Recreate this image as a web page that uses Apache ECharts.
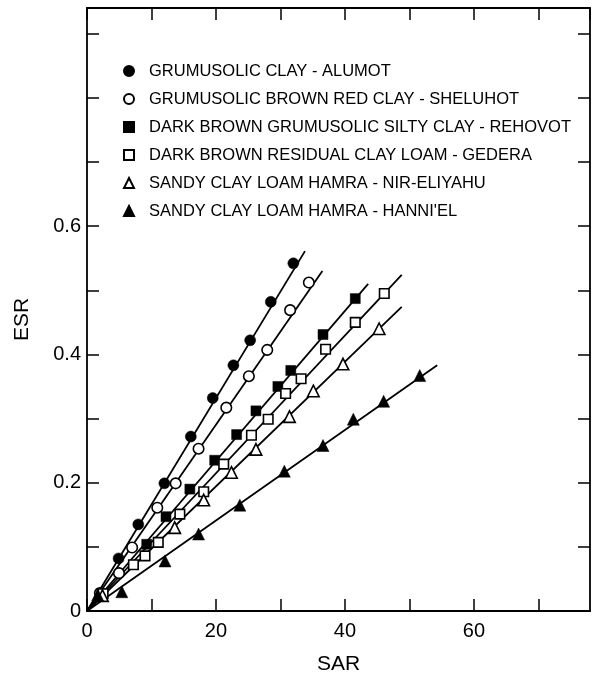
<!DOCTYPE html>
<html>
<head>
<meta charset="utf-8">
<script src="https://cdn.jsdelivr.net/npm/echarts@6/dist/echarts.min.js"></script>
<style>
  html, body { margin: 0; padding: 0; background: #fff; }
  #chart { width: 597px; height: 680px; }
</style>
</head>
<body>
<div id="chart"></div>
<script>
// ---- data ----
const seriesNames = [
  'GRUMUSOLIC CLAY - ALUMOT',
  'GRUMUSOLIC BROWN RED CLAY - SHELUHOT',
  'DARK BROWN GRUMUSOLIC SILTY CLAY - REHOVOT',
  'DARK BROWN RESIDUAL CLAY LOAM - GEDERA',
  'SANDY CLAY LOAM HAMRA - NIR-ELIYAHU',
  "SANDY CLAY LOAM HAMRA - HANNI'EL"
];

const alumotSAR = [2.1, 4.9, 7.95, 12.0, 16.1, 19.5, 22.7, 25.3, 28.5, 32.0];
const alumotESR = [0.024, 0.082, 0.135, 0.199, 0.272, 0.332, 0.383, 0.422, 0.482, 0.542];

const sheluhotSAR = [2.0, 4.96, 7.0, 10.9, 13.75, 17.3, 21.6, 25.1, 27.95, 31.5, 34.4];
const sheluhotESR = [0.028, 0.059, 0.099, 0.161, 0.199, 0.253, 0.317, 0.366, 0.407, 0.469, 0.512];

const rehovotSAR = [2.3, 9.26, 12.25, 15.95, 19.8, 23.2, 26.2, 29.6, 31.6, 36.6, 41.6];
const rehovotESR = [0.027, 0.104, 0.147, 0.190, 0.235, 0.275, 0.312, 0.350, 0.375, 0.431, 0.487];

const gederaSAR = [2.5, 7.2, 9.0, 11.05, 14.4, 18.1, 21.2, 25.5, 28.1, 30.8, 33.2, 37.0, 41.6, 46.1];
const gederaESR = [0.027, 0.072, 0.086, 0.107, 0.151, 0.186, 0.229, 0.274, 0.299, 0.339, 0.362, 0.408, 0.450, 0.495];

const nirEliyahuSAR = [2.4, 13.6, 18.1, 22.4, 26.2, 31.4, 35.1, 39.7, 45.3];
const nirEliyahuESR = [0.024, 0.130, 0.173, 0.216, 0.252, 0.303, 0.343, 0.385, 0.440];

const hannielSAR = [1.66, 5.4, 12.1, 17.3, 23.7, 30.6, 36.6, 41.3, 46.0, 51.6];
const hannielESR = [0.025, 0.030, 0.078, 0.120, 0.165, 0.218, 0.258, 0.299, 0.327, 0.367];

// fitted straight lines from the origin: end points
const lineEndSAR = [33.8, 36.5, 43.6, 48.8, 48.8, 54.3];
const lineEndESR = [0.561, 0.530, 0.510, 0.524, 0.474, 0.383];

const xTickLabels = [0, 20, 40, 60];
const yTickLabels = [0, 0.2, 0.4, 0.6];

// ---- styling ----
const sarSets = [alumotSAR, sheluhotSAR, rehovotSAR, gederaSAR, nirEliyahuSAR, hannielSAR];
const esrSets = [alumotESR, sheluhotESR, rehovotESR, gederaESR, nirEliyahuESR, hannielESR];
const symbols = ['circle', 'circle', 'rect', 'rect', 'triangle', 'triangle'];
const filled = [true, false, true, false, false, true];
const sizes = [11, 10.5, 10, 9.5, 11.5, 12];

const FONT = 'Liberation Sans';

const series = [];
for (let i = 0; i < 6; i++) {
  series.push({
    type: 'line',
    silent: true,
    symbol: 'none',
    xAxisIndex: 0, yAxisIndex: 0,
    lineStyle: { color: '#000', width: 1.8 },
    data: [[0, 0], [lineEndSAR[i], lineEndESR[i]]],
    z: 2
  });
}
for (let i = 0; i < 6; i++) {
  series.push({
    name: seriesNames[i],
    type: 'scatter',
    symbol: symbols[i],
    symbolSize: sizes[i],
    xAxisIndex: 0, yAxisIndex: 0,
    itemStyle: filled[i]
      ? { color: '#000', borderColor: '#000', borderWidth: 0.5, opacity: 1 }
      : { color: '#fff', borderColor: '#000', borderWidth: 1.6, opacity: 1 },
    data: sarSets[i].map((x, k) => [x, esrSets[i][k]]),
    z: 5
  });
}

const xLabelFmt = v => (xTickLabels.indexOf(v) >= 0 ? String(v) : '');
const yLabelFmt = v => {
  const t = yTickLabels.find(t => Math.abs(t - v) < 1e-6);
  if (t === undefined) return '';
  return t === 0 ? '0' : t.toFixed(1);
};

function axisBase() {
  return {
    axisLine: { show: true, onZero: false, lineStyle: { color: '#000', width: 1.8 } },
    axisTick: { show: true, inside: true, length: 12, lineStyle: { color: '#000', width: 1.5 } },
    splitLine: { show: false }
  };
}

const chart = echarts.init(document.getElementById('chart'), null, { renderer: 'canvas' });
chart.setOption({
  backgroundColor: '#fff',
  animation: false,
  grid: { left: 87, right: 7, top: 8, bottom: 68, containLabel: false },
  legend: {
    data: seriesNames,
    orient: 'vertical',
    left: 118,
    top: 57,
    itemWidth: 10,
    itemHeight: 10,
    itemGap: 10,
    selectedMode: false,
    textStyle: {
      fontFamily: FONT, fontSize: 16.5, color: '#000',
      lineHeight: 18, padding: [0, 0, 0, 10]
    }
  },
  xAxis: [
    Object.assign(axisBase(), {
      type: 'value', position: 'bottom', min: 0, max: 78, interval: 10,
      name: 'SAR', nameLocation: 'middle', nameGap: 43,
      nameTextStyle: { fontFamily: FONT, fontSize: 21, color: '#000' },
      axisLabel: { formatter: xLabelFmt, margin: 10, fontFamily: FONT, fontSize: 20, color: '#000', showMaxLabel: false }
    }),
    Object.assign(axisBase(), {
      type: 'value', position: 'top', min: 0, max: 78, interval: 10,
      axisLabel: { show: false }
    })
  ],
  yAxis: [
    Object.assign(axisBase(), {
      type: 'value', position: 'left', min: 0, max: 0.94, interval: 0.1,
      name: 'ESR', nameLocation: 'middle', nameGap: 54, nameRotate: 90,
      nameTextStyle: { fontFamily: FONT, fontSize: 21, color: '#000', padding: [0, 20, 0, 0] },
      axisLabel: { formatter: yLabelFmt, margin: 6, fontFamily: FONT, fontSize: 20, color: '#000', showMaxLabel: false }
    }),
    Object.assign(axisBase(), {
      type: 'value', position: 'right', min: 0, max: 0.94, interval: 0.1,
      axisLabel: { show: false }
    })
  ],
  series: series
});
</script>
</body>
</html>
